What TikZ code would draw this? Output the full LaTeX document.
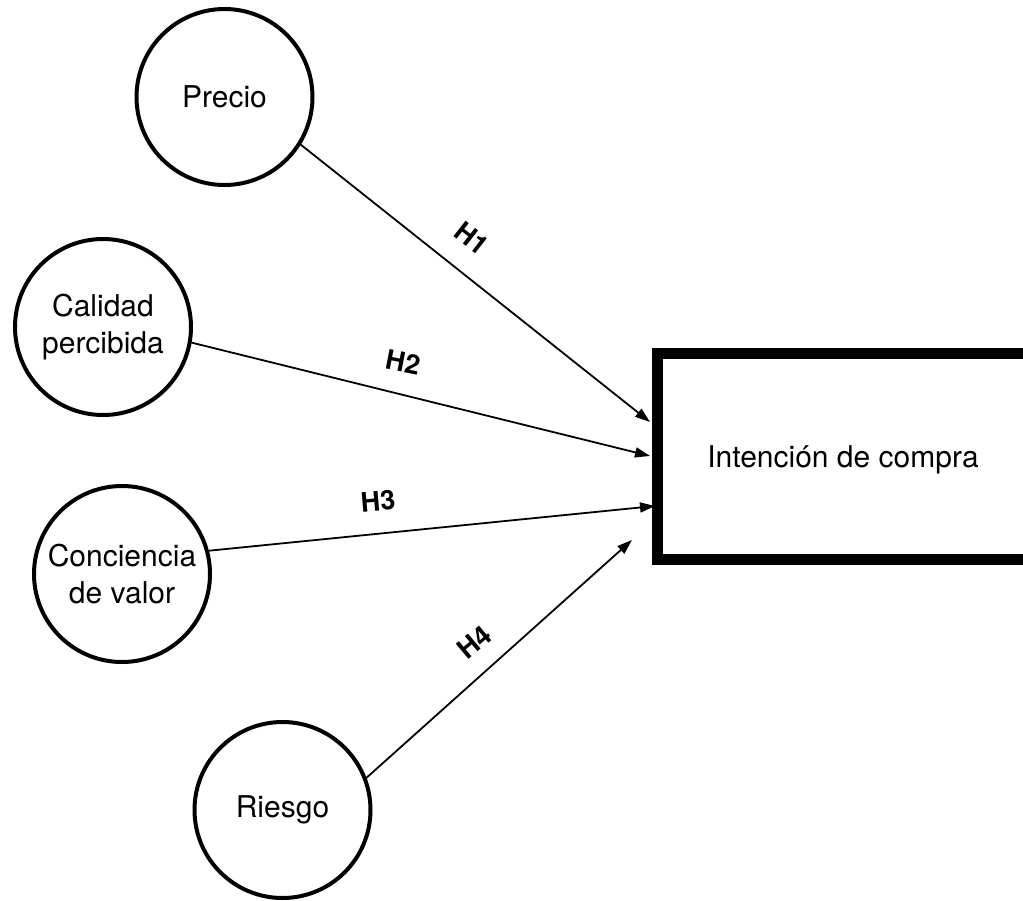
\documentclass[tikz,border=0pt]{standalone}
\usepackage{fontspec}
\setmainfont{TeX Gyre Heros}
\usetikzlibrary{arrows.meta}
\tikzset{
  var/.style={circle, draw, line width=4pt, minimum size=176pt, inner sep=0pt, align=center, font=\fontsize{30}{37}\selectfont},
  box/.style={rectangle, draw, line width=11pt, inner sep=0pt},
  conn/.style={line width=1.8pt, -{Triangle[length=15pt,width=10pt]}},
  hyp/.style={font=\fontsize{27}{30}\selectfont\bfseries},
}
\begin{document}
\begin{tikzpicture}[x=1pt,y=-1pt]
\useasboundingbox (0,0) rectangle (1023,900);
\clip (0,0) rectangle (1023,900);
\node[var] (precio) at (224.5,97) {Precio};
\node[var] (calidad) at (103,327) {Calidad\\percibida};
\node[var] (conciencia) at (122,574) {Conciencia\\de valor};
\node[var] (riesgo) at (282.5,810) {Riesgo};
\node[box, minimum width=400pt, minimum height=206pt] (ic) at (857.5,456.5) {};
\node[font=\fontsize{30}{36}\selectfont] (ictext) at (843,460) {Intención de compra};
\coordinate (t1) at (650,422);
\coordinate (t2) at (650,456);
\coordinate (t3) at (655,506);
\coordinate (t4) at (632,540);
\draw[conn] (precio.-32) -- (t1);
\draw[conn] (calidad.-10) -- (t2);
\draw[conn] (conciencia.15) -- (t3);
\draw[conn] (riesgo.21) -- (t4);
\node[hyp, rotate=-38] (h1) at (472,238) {H1};
\node[hyp, rotate=-11] (h2) at (403,362) {H2};
\node[hyp, rotate=5] (h3) at (378,501) {H3};
\node[hyp, rotate=40] (h4) at (474,642) {H4};
\end{tikzpicture}
\end{document}
